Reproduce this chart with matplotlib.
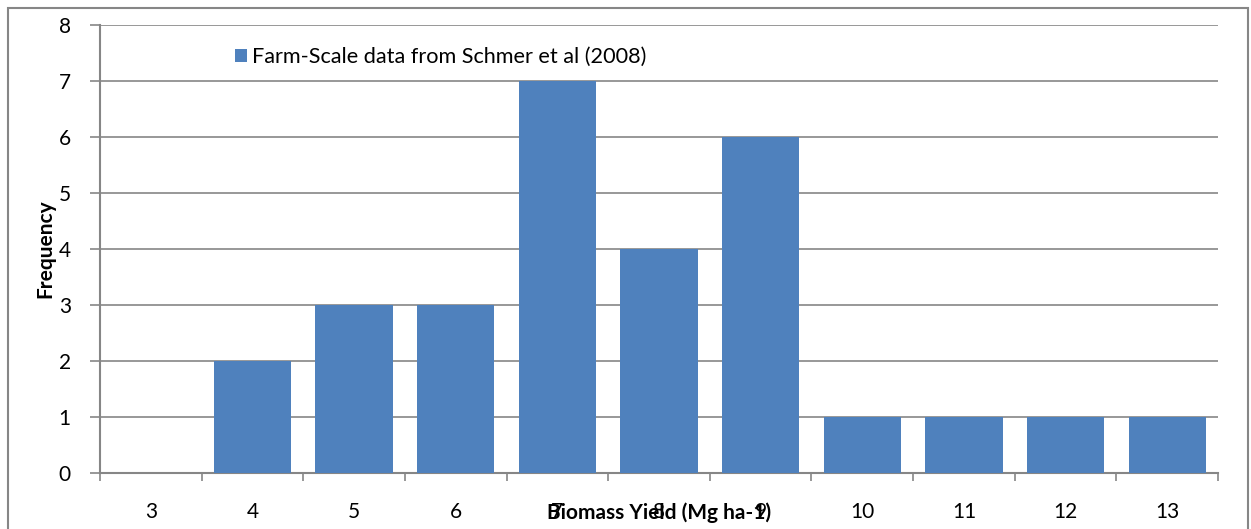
import numpy as np
import matplotlib.pyplot as plt
from matplotlib.patches import Rectangle

plt.rcParams['font.family'] = ['Lato', 'DejaVu Sans']

# yield classes (Mg ha-1) and number of farms in each
yield_class = ['3', '4', '5', '6', '7', '8', '9', '10', '11', '12', '13']
frequency = [0, 2, 3, 3, 7, 4, 6, 1, 1, 1, 1]
series_name = 'Farm-Scale data from Schmer et al (2008)'

bar_color = '#4F81BD'
grey = '#868686'

fig = plt.figure(figsize=(12.51, 5.29), dpi=100)
ax = fig.add_axes([100 / 1251, 56 / 529, 1118 / 1251, 448 / 529])

x = np.arange(len(yield_class))
ax.bar(x, frequency, width=0.76, color=bar_color, label=series_name, zorder=3)

ax.set_xlim(-0.5, len(yield_class) - 0.5)
ax.set_ylim(0, 8)
ax.set_yticks(range(0, 9))
ax.yaxis.grid(True, color=grey, linewidth=1.2, zorder=0)
ax.tick_params(axis='y', length=7, width=1.2, color=grey, labelsize=15, pad=14)

# ticks on category boundaries, labels in the middle
ax.set_xticks(np.arange(-0.5, len(yield_class), 1.0))
ax.set_xticklabels([])
ax.tick_params(axis='x', which='major', length=6, width=1.2, color=grey)
ax.set_xticks(x, minor=True)
ax.set_xticklabels(yield_class, minor=True)
ax.tick_params(axis='x', which='minor', length=0, labelsize=15, pad=21)

for side in ['top', 'right']:
    ax.spines[side].set_visible(False)
for side in ['left', 'bottom']:
    ax.spines[side].set_color(grey)
    ax.spines[side].set_linewidth(1.5)

ax.text(0.5, -0.089, 'Biomass Yield (Mg ha-1)', transform=ax.transAxes,
        ha='center', va='center', fontsize=15, fontweight='bold')
ax.text(-0.049, 0.5, 'Frequency', transform=ax.transAxes, rotation=90,
        ha='center', va='center', fontsize=15, fontweight='bold')

ax.legend(loc='upper left', bbox_to_anchor=(0.113, 0.97), frameon=False,
          fontsize=15.6, handlelength=0.55, handleheight=0.55, handletextpad=0.25,
          borderaxespad=0)

# chart area border
fig.patches.append(Rectangle((8 / 1251, -0.1), 1240 / 1251, 1.1 - 8 / 529,
                             transform=fig.transFigure, fill=False,
                             edgecolor=grey, linewidth=1.5, clip_on=False))

fig.savefig('out.png', dpi=100)
